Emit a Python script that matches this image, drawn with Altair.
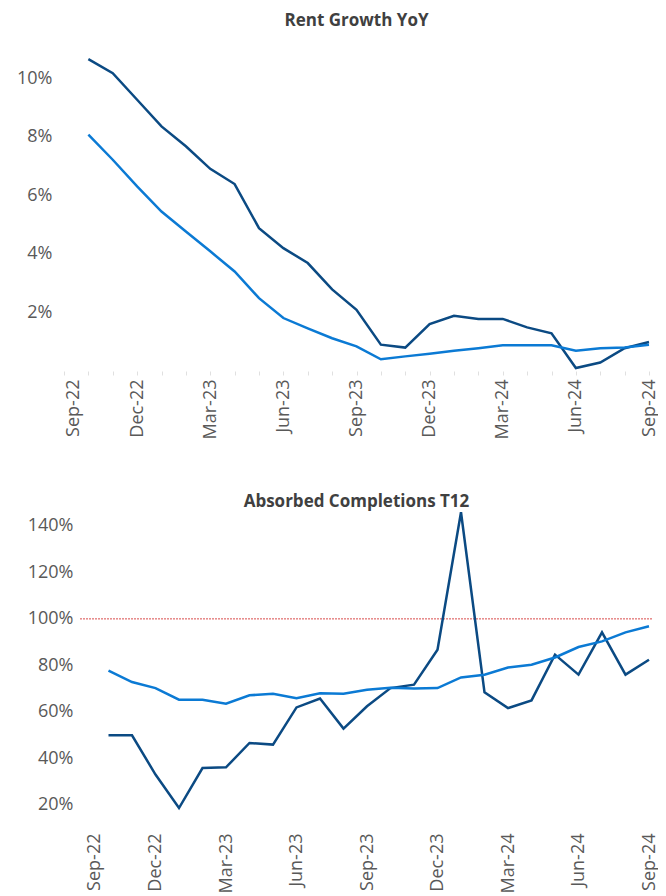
import altair as alt
import pandas as pd

# All months on the axis (Sep-22 .. Sep-24)
months = ["Sep-22", "Oct-22", "Nov-22", "Dec-22", "Jan-23", "Feb-23", "Mar-23", "Apr-23",
          "May-23", "Jun-23", "Jul-23", "Aug-23", "Sep-23", "Oct-23", "Nov-23", "Dec-23",
          "Jan-24", "Feb-24", "Mar-24", "Apr-24", "May-24", "Jun-24", "Jul-24", "Aug-24", "Sep-24"]
tick_labels = ["Sep-22", "Dec-22", "Mar-23", "Jun-23", "Sep-23", "Dec-23", "Mar-24", "Jun-24", "Sep-24"]

data_months = months[1:]  # Oct-22 .. Sep-24

rent_dark = [10.66, 10.18, 9.27, 8.36, 7.68, 6.91, 6.39, 4.88, 4.20, 3.69, 2.79, 2.09,
             0.90, 0.80, 1.60, 1.89, 1.78, 1.78, 1.49, 1.29, 0.10, 0.29, 0.78, 0.99]
rent_light = [8.08, 7.22, 6.31, 5.45, 4.77, 4.09, 3.40, 2.49, 1.81, 1.46, 1.12, 0.84,
              0.40, 0.50, 0.59, 0.69, 0.78, 0.88, 0.88, 0.88, 0.69, 0.78, 0.80, 0.90]

abs_dark = [49.9, 49.9, 33.0, 18.6, 35.8, 36.1, 46.6, 45.9, 61.9, 65.7, 52.8, 62.4,
            70.2, 71.7, 86.7, 145.9, 68.4, 61.6, 64.9, 84.6, 76.0, 94.2, 76.0, 82.4]
abs_light = [77.7, 72.8, 70.2, 65.2, 65.2, 63.5, 67.1, 67.8, 65.9, 68.0, 67.8, 69.5,
             70.4, 70.0, 70.2, 74.8, 76.0, 79.1, 80.3, 83.4, 87.9, 90.3, 94.2, 96.8]

series_names = ["Dark", "Light"]
colors = ["#0b4a83", "#0b7ad4"]
FONT = "Open Sans"
LABEL_COLOR = "#595959"

W = 585          # shared plot width
BOT_SHIFT = 21   # bottom panel starts further right


def make_df(dark, light):
    rows = []
    for m, d, l in zip(data_months, dark, light):
        rows.append({"month": m, "series": series_names[0], "value": d / 100.0})
        rows.append({"month": m, "series": series_names[1], "value": l / 100.0})
    return pd.DataFrame(rows)


label_expr = "indexof([" + ",".join("'%s'" % t for t in tick_labels) + "], datum.value) >= 0 ? datum.value : ''"


def x_enc(tick_color, tick_size, pad, rng):
    return alt.X(
        "month:O",
        sort=months,
        scale=alt.Scale(type="point", domain=months, padding=0, range=rng),
        axis=alt.Axis(
            title=None, labelAngle=-90, labelExpr=label_expr, labelFont=FONT,
            labelFontSize=18, labelColor=LABEL_COLOR, domain=False,
            ticks=True, tickColor=tick_color, tickSize=tick_size, labelPadding=pad,
            labelBaseline="middle", labelAlign="right",
            labelOffset={"condition": {"test": "datum.value === 'Sep-22'", "value": 9}, "value": 0},
        ),
    )


color_enc = alt.Color("series:N", scale=alt.Scale(domain=series_names, range=colors), legend=None)

top_df = make_df(rent_dark, rent_light)
top = alt.Chart(top_df).mark_line(strokeWidth=2.5).encode(
    x=x_enc("#e0e0e0", 4, 4, [0, W]),
    y=alt.Y("value:Q", scale=alt.Scale(domain=[0, 0.1162], nice=False, zero=False),
            axis=alt.Axis(title=None, values=[0.02, 0.04, 0.06, 0.08, 0.10], format=".0%",
                          labelFont=FONT, labelFontSize=18, labelColor=LABEL_COLOR,
                          domain=False, ticks=False, grid=False, labelPadding=12,
                          minExtent=56, maxExtent=56)),
    color=color_enc,
    detail="series:N",
).properties(
    width=W, height=340,
    title=alt.TitleParams("Rent Growth YoY", font=FONT, fontSize=17, fontWeight="bold",
                          color="#404040", anchor="middle", offset=1),
)

bot_df = make_df(abs_dark, abs_light)
ref_df = pd.DataFrame({"y": [1.0]})

bot_lines = alt.Chart(bot_df).mark_line(strokeWidth=2.5).encode(
    x=x_enc("#ffffff", 0, 5, [BOT_SHIFT, W]),
    y=alt.Y("value:Q", scale=alt.Scale(domain=[0.10, 1.46], nice=False, zero=False),
            axis=alt.Axis(title=None, values=[0.2, 0.4, 0.6, 0.8, 1.0, 1.2, 1.4], format=".0%",
                          labelFont=FONT, labelFontSize=18, labelColor=LABEL_COLOR,
                          domain=False, ticks=False, grid=False, labelPadding=12,
                          offset=-BOT_SHIFT, minExtent=56, maxExtent=56)),
    color=color_enc,
    detail="series:N",
)
ref_rule = alt.Chart(ref_df).mark_rule(color="#d94a4a", strokeWidth=1, strokeDash=[2, 1]).encode(
    y="y:Q", x=alt.value(BOT_SHIFT - 5), x2=alt.value(W + 4)
)
bottom = alt.layer(ref_rule, bot_lines).properties(
    width=W, height=316,
    title=alt.TitleParams("Absorbed Completions T12", font=FONT, fontSize=17, fontWeight="bold",
                          color="#404040", anchor="middle", offset=-4),
)

chart = alt.vconcat(top, bottom, spacing=54).properties(
    padding={"left": 0, "right": 0, "top": 4, "bottom": 0},
).configure_view(stroke=None)

chart.save("out.html", embed_options={"renderer": "svg", "actions": False})
